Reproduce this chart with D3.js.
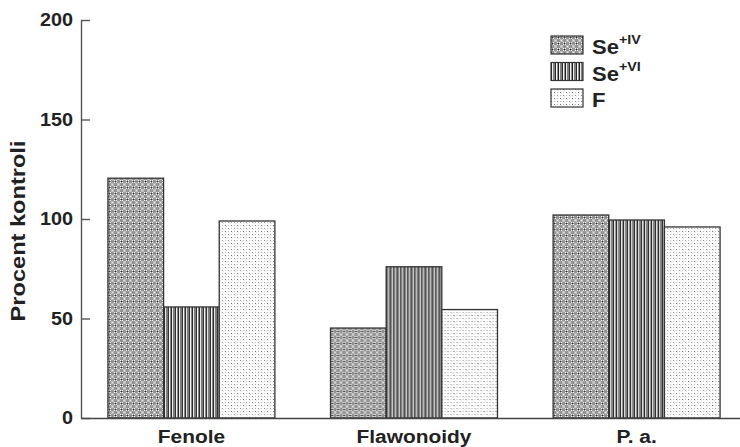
<!DOCTYPE html>
<html>
<head>
<meta charset="utf-8">
<script src="https://cdn.jsdelivr.net/npm/d3@7"></script>
<style>
  html, body { margin: 0; padding: 0; background: #fff; }
  svg { display: block; }
  text { font-family: "Liberation Sans", Arial, sans-serif; font-weight: bold; fill: #222; }
</style>
</head>
<body>
<svg id="chart" width="740" height="447"></svg>
<script>
// Data
const categories = ["Fenole", "Flawonoidy", "P. a."];
const seriesKeys = ["SeIV", "SeVI", "F"];
const seIV = [120.5, 45.2, 102];
const seVI = [55.8, 76, 99.5];
const fVals = [99, 54.5, 96];
const yTicks = [0, 50, 100, 150, 200];
const yTitle = "Procent kontroli";

const seriesValues = { SeIV: seIV, SeVI: seVI, F: fVals };
const rows = categories.map((c, i) => ({
  cat: c,
  values: seriesKeys.map(k => ({ key: k, value: seriesValues[k][i] }))
}));

const svg = d3.select("#chart");
const defs = svg.append("defs");

// Fill patterns for the three series
function makePattern(id, w, h, bg, cells) {
  const p = defs.append("pattern").attr("id", id)
    .attr("patternUnits", "userSpaceOnUse").attr("width", w).attr("height", h);
  p.append("rect").attr("width", w).attr("height", h).attr("fill", bg);
  cells.forEach(([x, y, cw, ch, col]) =>
    p.append("rect").attr("x", x).attr("y", y).attr("width", cw).attr("height", ch).attr("fill", col));
}
// checkered halftone
makePattern("pat-SeIV", 6, 6, "#939393", [
  [0, 0, 1, 1, "#fff"], [2, 0, 1, 1, "#fff"], [0, 2, 1, 1, "#fff"], [2, 2, 1, 1, "#fff"],
  [1, 1, 1, 1, "#222"],
  [3, 3, 3, 3, "#bdbdbd"], [4, 4, 1, 1, "#e8e8e8"]
]);
// vertical stripes
makePattern("pat-SeVI", 7, 4, "#fff", [
  [0, 0, 1, 4, "#1e1e1e"], [1, 0, 1, 4, "#eeeeee"], [2, 0, 2, 4, "#808080"],
  [4, 0, 1, 4, "#262626"], [5, 0, 1, 4, "#fafafa"], [6, 0, 1, 4, "#8e8e8e"]
]);
// light dots
makePattern("pat-F", 6, 6, "#fff", [
  [0, 0, 1, 1, "#8c8c8c"], [3, 0, 1, 1, "#b8b8b8"], [0, 3, 1, 1, "#b8b8b8"],
  [3, 3, 1, 1, "#666"], [1, 1, 1, 1, "#e4e4e4"], [4, 4, 1, 1, "#e4e4e4"]
]);

const x0 = d3.scaleBand().domain(categories).range([81, 747])
  .paddingInner(0.25).paddingOuter(0.121);
const x1 = d3.scaleBand().domain(seriesKeys).range([0, x0.bandwidth()]).padding(0);
const y = d3.scaleLinear().domain([0, 200]).range([418, 20]);

const sx = 1.1; // horizontal stretch of the label lettering

// Bars
const groups = svg.append("g").selectAll("g").data(rows).join("g")
  .attr("transform", d => `translate(${x0(d.cat)},0)`);
groups.selectAll("rect").data(d => d.values).join("rect")
  .attr("x", d => x1(d.key))
  .attr("y", d => y(d.value))
  .attr("width", x1.bandwidth())
  .attr("height", d => y(0) - y(d.value))
  .attr("fill", d => `url(#pat-${d.key})`)
  .attr("stroke", "#333")
  .attr("stroke-width", 1.3);

// Y axis
const yAxis = svg.append("g").attr("transform", "translate(81,0)")
  .call(d3.axisLeft(y).tickValues(yTicks).tickSizeInner(-9).tickSizeOuter(0).tickPadding(8));
yAxis.select(".domain").attr("stroke", "#555").attr("stroke-width", 1.4);
yAxis.selectAll(".tick line").attr("stroke", "#555").attr("stroke-width", 1.4);
yAxis.selectAll(".tick text")
  .attr("font-size", 18).attr("fill", "#222")
  .style("font-family", "'Liberation Sans', Arial, sans-serif").style("font-weight", "bold")
  .attr("x", -8 / sx).attr("transform", `scale(${sx},1)`);

// X axis
const xAxis = svg.append("g").attr("transform", "translate(0,418)")
  .call(d3.axisBottom(x0).tickSize(0).tickPadding(12));
xAxis.select(".domain").attr("stroke", "#444").attr("stroke-width", 1.5);
xAxis.selectAll(".tick text")
  .attr("font-size", 19).attr("fill", "#222")
  .style("font-family", "'Liberation Sans', Arial, sans-serif").style("font-weight", "bold")
  .attr("transform", `scale(${sx},1)`);

// Y axis title
svg.append("text")
  .attr("transform", "translate(25,231) rotate(-90) scale(1.18,1)")
  .attr("text-anchor", "middle")
  .attr("font-size", 20)
  .text(yTitle);

// Legend
const legendItems = [
  { key: "SeIV", base: "Se", sup: "+IV" },
  { key: "SeVI", base: "Se", sup: "+VI" },
  { key: "F", base: "F", sup: "" }
];
const legend = svg.append("g").attr("transform", "translate(551,36)");
const li = legend.selectAll("g").data(legendItems).join("g")
  .attr("transform", (d, i) => `translate(0,${i * 26.5})`);
li.append("rect").attr("width", 32).attr("height", 18)
  .attr("fill", d => `url(#pat-${d.key})`).attr("stroke", "#333").attr("stroke-width", 1.2);
const lt = li.append("text").attr("x", 41 / sx).attr("y", 18)
  .attr("font-size", 20).attr("transform", `scale(${sx},1)`);
lt.append("tspan").text(d => d.base);
lt.append("tspan").attr("font-size", 13).attr("dy", -10).text(d => d.sup);
</script>
</body>
</html>
